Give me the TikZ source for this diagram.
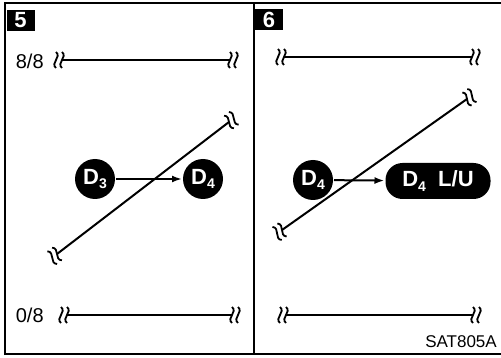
\documentclass[tikz,border=0pt]{standalone}
\usepackage{fontspec}
\setmainfont{Liberation Sans}
\usetikzlibrary{arrows.meta}
\newcommand{\dsub}[1]{\raisebox{-0.35ex}{\fontsize{14}{14}\selectfont #1}}
\tikzset{
  brk/.pic={
    \draw[line width=1.8pt] (0,-8) .. controls (6,-3) and (-6,3) .. (0,8);
    \draw[line width=1.8pt] (-6,-8) .. controls (0,-3) and (-12,3) .. (-6,8);
  },
  disc/.style={circle, fill=black, text=white, minimum size=40pt, inner sep=0pt,
    font=\bfseries\fontsize{22}{22}\selectfont},
  pill/.style={rectangle, rounded corners=17pt, fill=black, text=white,
    minimum width=105pt, minimum height=36pt, inner sep=0pt,
    font=\bfseries\fontsize{22}{22}\selectfont},
  tag/.style={fill=black, text=white, minimum width=28pt, minimum height=21pt,
    inner sep=0pt, font=\bfseries\fontsize{22}{22}\selectfont},
  lbl/.style={font=\fontsize{20}{20}\selectfont},
}
\begin{document}
\begin{tikzpicture}[x=1pt, y=-1pt, line width=2pt]
    \useasboundingbox (0,0) rectangle (501,358);
    % 边框
    \draw[line width=1.2pt] (5,355) -- (5,3) -- (501,3);
    \draw[line width=1.2pt] (254,3) -- (254,355);
    \draw[line width=1.2pt] (5,354) -- (501,354);

    % 标号
    \node[tag] (p5) at (20.5,20.5) {5};
    \node[tag] (p6) at (269,20) {6};

    % 左图 8/8 与 0/8
    \coordinate (a1) at (62,60);
    \coordinate (a2) at (230,60);
    \draw (a1) -- (a2);
    \pic at (a1) {brk};
    \pic[rotate=180] at (a2) {brk};
    \node[lbl, anchor=east] (lbl8) at (48,61) {8/8};

    \coordinate (b1) at (67,315);
    \coordinate (b2) at (232,315);
    \draw (b1) -- (b2);
    \pic at (b1) {brk};
    \pic[rotate=180] at (b2) {brk};
    \node[lbl, anchor=east] (lbl0) at (48,315) {0/8};

    % 左图斜线
    \coordinate (c1) at (57,254);
    \coordinate (c2) at (229,122);
    \draw (c1) -- (c2);
    \pic[rotate=37.5] at (c1) {brk};
    \pic[rotate=217.5] at (c2) {brk};

    % D3 -> D4
    \node[disc] (d3) at (95,179) {D\dsub{3}};
    \node[disc] (d4a) at (203,179) {D\dsub{4}};
    \draw[-{Latex[length=10pt,width=7pt]}] (d3) -- (d4a);

    % 右图水平线
    \coordinate (e1) at (284,57);
    \coordinate (e2) at (472,57);
    \draw (e1) -- (e2);
    \pic at (e1) {brk};
    \pic[rotate=180] at (e2) {brk};

    \coordinate (f1) at (286,315);
    \coordinate (f2) at (473,315);
    \draw (f1) -- (f2);
    \pic at (f1) {brk};
    \pic[rotate=180] at (f2) {brk};

    % 右图斜线
    \coordinate (g1) at (282,230);
    \coordinate (g2) at (467,99);
    \draw (g1) -- (g2);
    \pic[rotate=35.3] at (g1) {brk};
    \pic[rotate=215.3] at (g2) {brk};

    % D4 -> D4 L/U
    \node[disc] (d4b) at (313,180) {D\dsub{4}};
    \node[pill] (d4lu) at (438,181) {D\dsub{4}\ \ L/U};
    \draw[-{Latex[length=10pt,width=7pt]}] (d4b) -- (d4lu);

    % 图号
    \node[font=\fontsize{17}{17}\selectfont] (code) at (461,342) {SAT805A};
\end{tikzpicture}
\end{document}
